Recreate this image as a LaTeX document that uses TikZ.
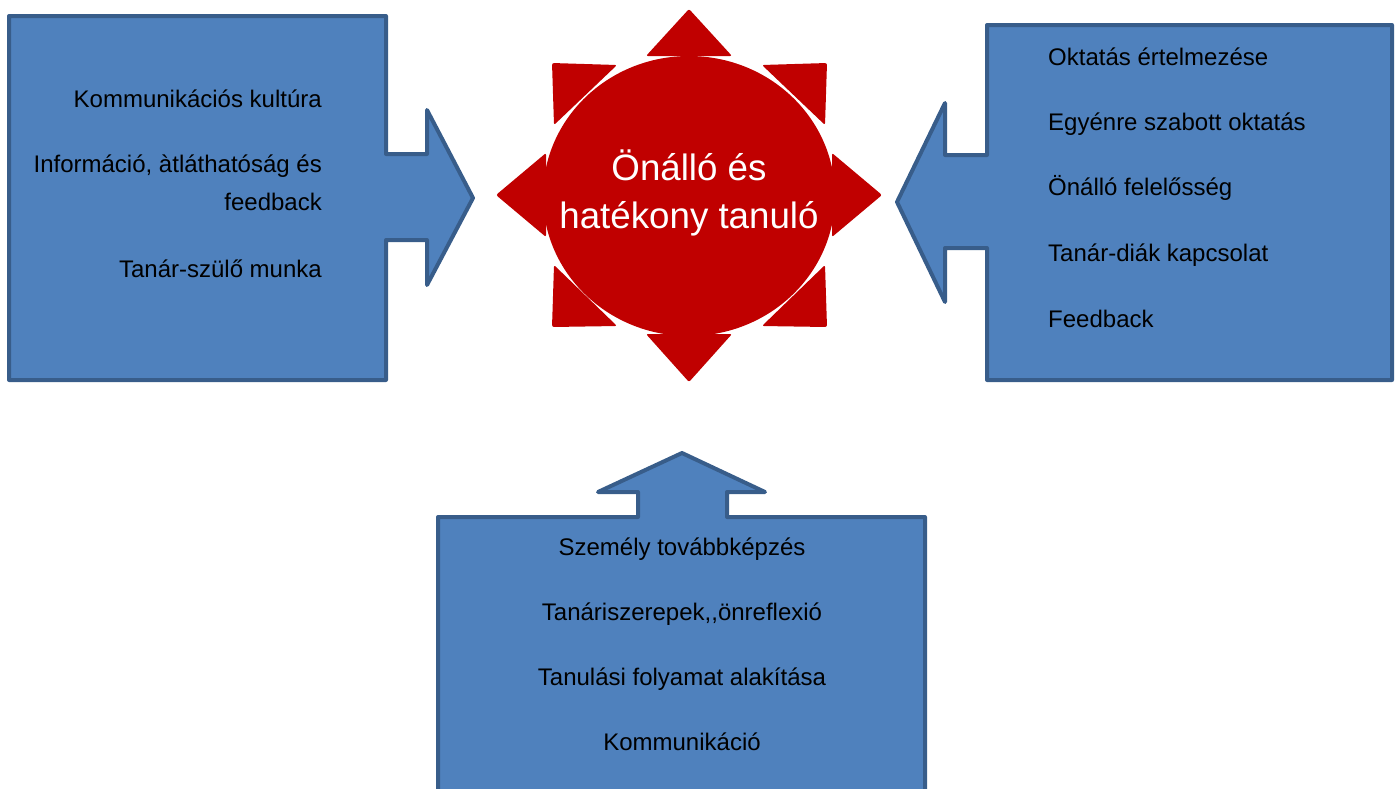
\documentclass[tikz,border=0pt]{standalone}
\usepackage{fontspec}
\setmainfont{Liberation Sans}[Ligatures=NoCommon]
\definecolor{bfill}{HTML}{4F81BD}
\definecolor{bline}{HTML}{385D8A}
\definecolor{sunred}{HTML}{C00000}
\begin{document}
\begin{tikzpicture}[x=1pt,y=-1pt,
  callout/.style={fill=bfill,draw=bline,line width=4pt,line join=round},
  ray/.style={fill=sunred,rounded corners=2pt},
  item/.style={inner sep=0pt,font=\fontsize{24}{29}\selectfont,text=black},
  core/.style={inner sep=0pt,font=\fontsize{36.7}{44}\selectfont,text=white}]
\useasboundingbox (0,0) rectangle (1399,788);
\begin{scope}
\clip (0,0) rectangle (1399,788);
% left callout
\draw[callout] (9,16) -- (386,16) -- (386,154) -- (427,154) -- (427,110) -- (473,198)
  -- (427,285) -- (427,240) -- (386,240) -- (386,380) -- (9,380) -- cycle;
% right callout
\draw[callout] (987,25) -- (1392,25) -- (1392,380) -- (987,380) -- (987,248) -- (945,248)
  -- (945,302) -- (897,202) -- (945,103) -- (945,155) -- (987,155) -- cycle;
% bottom callout
\draw[callout] (438,517) -- (638,517) -- (638,492) -- (598,492) -- (682,453) -- (765,492)
  -- (727,492) -- (727,517) -- (925,517) -- (925,800) -- (438,800) -- cycle;
\end{scope}
% sun
\fill[sunred] (689,196) ellipse [x radius=146pt, y radius=140pt];
\fill[ray] (646,56) -- (689,9) -- (732,56) -- cycle;
\fill[ray] (646,334) -- (689,382) -- (732,334) -- cycle;
\fill[ray] (546,153) -- (496,195) -- (546,237) -- cycle;
\fill[ray] (832,153) -- (882,195) -- (832,237) -- cycle;
\fill[ray] (617,65) -- (552,63) -- (554,125) -- cycle;
\fill[ray] (762,65) -- (827,63) -- (825,125) -- cycle;
\fill[ray] (554,265) -- (552,327) -- (617,326) -- cycle;
\fill[ray] (825,265) -- (827,327) -- (762,326) -- cycle;
\node[core,anchor=base] (c1) at (689,180) {Önálló és};
\node[core,anchor=base] (c2) at (689,228) {hatékony tanuló};
% left texts
\node[item,anchor=base east] (l1) at (322,107) {Kommunikációs kultúra};
\node[item,anchor=base east] (l2) at (322,172) {Információ, àtláthatóság és};
\node[item,anchor=base east] (l3) at (322,210) {feedback};
\node[item,anchor=base east] (l4) at (322,277) {Tanár-szülő munka};
% right texts
\node[item,anchor=base west] (r1) at (1048,65) {Oktatás értelmezése};
\node[item,anchor=base west] (r2) at (1048,130) {Egyénre szabott oktatás};
\node[item,anchor=base west] (r3) at (1048,195) {Önálló felelősség};
\node[item,anchor=base west] (r4) at (1048,261) {Tanár-diák kapcsolat};
\node[item,anchor=base west] (r5) at (1048,327) {Feedback};
% bottom texts
\node[item,anchor=base] (b1) at (682,555) {Személy továbbképzés};
\node[item,anchor=base] (b2) at (682,620) {Tanáriszerepek{,}{,}önreflexió};
\node[item,anchor=base] (b3) at (682,685) {Tanulási folyamat alakítása};
\node[item,anchor=base] (b4) at (682,750) {Kommunikáció};
\end{tikzpicture}
\end{document}
